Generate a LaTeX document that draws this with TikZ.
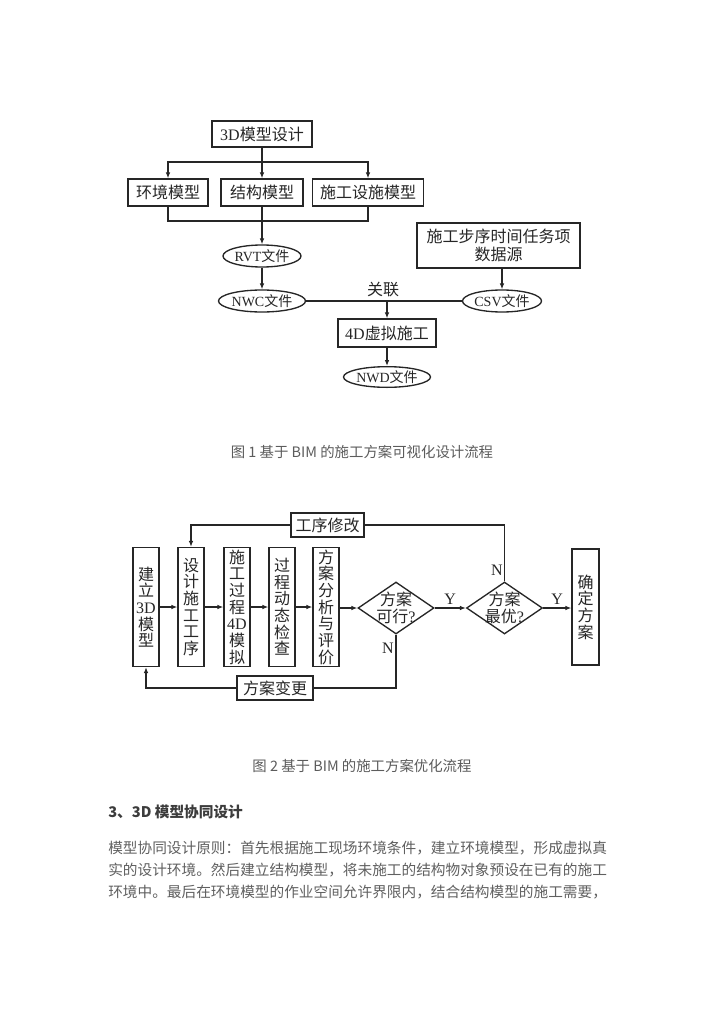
\documentclass[tikz,border=0pt]{standalone}
\usepackage{fontspec}
\setmainfont{Noto Sans CJK SC}
\newfontfamily\lat{Liberation Serif}
\usetikzlibrary{shapes.geometric, arrows.meta, positioning}

\definecolor{inkc}{HTML}{262626}
\definecolor{capc}{HTML}{5C5C5C}
\definecolor{parac}{HTML}{606060}

\tikzset{
  flow/.style={draw=inkc, line width=1pt, text=inkc, inner sep=1pt, align=center,
    font=\fontsize{12}{12.5}\selectfont},
  boxc/.style={flow, rectangle},
  vbox/.style={flow, minimum width=19.5pt, minimum height=89.25pt},
  oval/.style={flow, ellipse, minimum height=16.5pt},
  dia/.style={flow, diamond, minimum width=57pt, minimum height=39pt},
  inlbl/.style={text=inkc, align=center, inner sep=0pt, font=\fontsize{12}{12.5}\selectfont},
  ovlbl/.style={inlbl, font=\fontsize{10.5}{12}\selectfont},
  link/.style={draw=inkc, line width=1pt},
  arr/.style={link, -{Latex[length=4.5pt,width=3.5pt]}},
  yn/.style={text=inkc, font=\lat\fontsize{12}{12}\selectfont},
  figcap/.style={text=capc, font=\fontsize{10.8}{13}\selectfont},
  para/.style={text=parac, anchor=west, inner sep=0pt, font=\fontsize{11}{13}\selectfont},
}

\begin{document}
\begin{tikzpicture}[x=0.75pt, y=-0.75pt]
\useasboundingbox[fill=white] (0,0) rectangle (724,1024);

% figure 1
\node[boxc, minimum width=75pt, minimum height=19.5pt] (d3) at (262,134) {{\lat 3D}模型设计};
\node[boxc, minimum width=60pt, minimum height=20.25pt] (env) at (168,192.5) {环境模型};
\node[boxc, minimum width=61.5pt, minimum height=20.25pt] (str) at (262,192.5) {结构模型};
\node[boxc, minimum width=83.25pt, minimum height=20.25pt] (fac) at (368,192.5) {施工设施模型};

\node[oval, minimum width=58.5pt, label={[ovlbl]center:{{\lat RVT}文件}}] (rvt) at (262,256) {};
\node[oval, minimum width=65.25pt, label={[ovlbl]center:{{\lat NWC}文件}}] (nwc) at (262,301) {};
\node[oval, minimum width=59.25pt, label={[ovlbl]center:{{\lat CSV}文件}}] (csv) at (502,301) {};
\node[boxc, minimum width=122.25pt, minimum height=33.75pt, font=\fontsize{12}{13.5}\selectfont]
  (src) at (498.5,245.5) {施工步序时间任务项\\数据源};
\node[boxc, minimum width=73.5pt, minimum height=21pt] (vir) at (387,333) {{\lat 4D}虚拟施工};
\node[oval, minimum width=65.25pt, minimum height=15.5pt, label={[ovlbl]center:{{\lat NWD}文件}}] (nwd) at (387,377) {};
\node[inlbl] (rel) at (383,290) {关联};

\coordinate (split) at (262,162);
\coordinate (merge) at (262,221);
\coordinate (join) at (387,301);

\draw[link] (d3.south) -- (split);
\draw[arr] (split) -| (env.north);
\draw[arr] (split) -| (fac.north);
\draw[arr] (split) -- (str.north);
\draw[link] (env.south) |- (merge);
\draw[link] (fac.south) |- (merge);
\draw[arr] (str.south) -- (rvt.north);
\draw[arr] (rvt.south) -- (nwc.north);
\draw[link] (nwc.east) -- (csv.west);
\draw[arr] (src.south -| csv.north) -- (csv.north);
\draw[arr] (join) -- (vir.north);
\draw[arr] (vir.south) -- (nwd.north);

\node[figcap] (cap1) at (362,452) {图 1 基于 BIM 的施工方案可视化设计流程};

% figure 2
\node[vbox] (m3d) at (146,607) {建\\立\\{\lat 3D}\\模\\型};
\node[vbox] (proc) at (191,607) {设\\计\\施\\工\\工\\序};
\node[vbox] (sim) at (237,607) {施\\工\\过\\程\\{\lat 4D}\\模\\拟};
\node[vbox] (chk) at (282,607) {过\\程\\动\\态\\检\\查};
\node[vbox] (eval) at (326,607) {方\\案\\分\\析\\与\\评\\价};
\node[dia, label={[inlbl]center:{方案\\可行{\lat ?}}}] (ok) at (396,608) {};
\node[dia, label={[inlbl]center:{方案\\最优{\lat ?}}}] (best) at (504.5,608) {};
\node[vbox, minimum width=20.25pt, minimum height=87pt] (fin) at (585.5,607) {确\\定\\方\\案};
\node[boxc, minimum width=54.75pt, minimum height=18pt] (mod) at (327.5,525) {工序修改};
\node[boxc, minimum width=57pt, minimum height=18pt] (chg) at (275,688) {方案变更};

\draw[arr] (m3d) -- (proc);
\draw[arr] (proc) -- (sim);
\draw[arr] (sim) -- (chk);
\draw[arr] (chk) -- (eval);
\draw[arr] (eval.east |- ok.west) -- (ok.west);
\draw[arr] (ok.east) -- node[yn, above=-1pt] (y1) {Y} (best.west);
\draw[arr] (best.east) -- node[yn, above=-1pt] (y2) {Y} (fin.west |- best.east);
\draw[link] (best.north) |- (mod.east);
\draw[arr] (mod.west) -| (proc.north);
\draw[link] (ok.south) |- (chg.east);
\draw[arr] (chg.west) -| (m3d.south);
\node[yn] (n1) at (497,570) {N};
\node[yn] (n2) at (388,648) {N};

\node[figcap] (cap2) at (362,766) {图 2 基于 BIM 的施工方案优化流程};

% text below
\node[para, text=inkc!90, font=\bfseries\fontsize{11}{13}\selectfont] (head) at (108,812) {3、3D 模型协同设计};
\node[para] (l1) at (108,848) {模型协同设计原则：首先根据施工现场环境条件，建立环境模型，形成虚拟真};
\node[para] (l2) at (108,870) {实的设计环境。然后建立结构模型，将未施工的结构物对象预设在已有的施工};
\node[para] (l3) at (108,892) {环境中。最后在环境模型的作业空间允许界限内，结合结构模型的施工需要，};
\end{tikzpicture}
\end{document}
